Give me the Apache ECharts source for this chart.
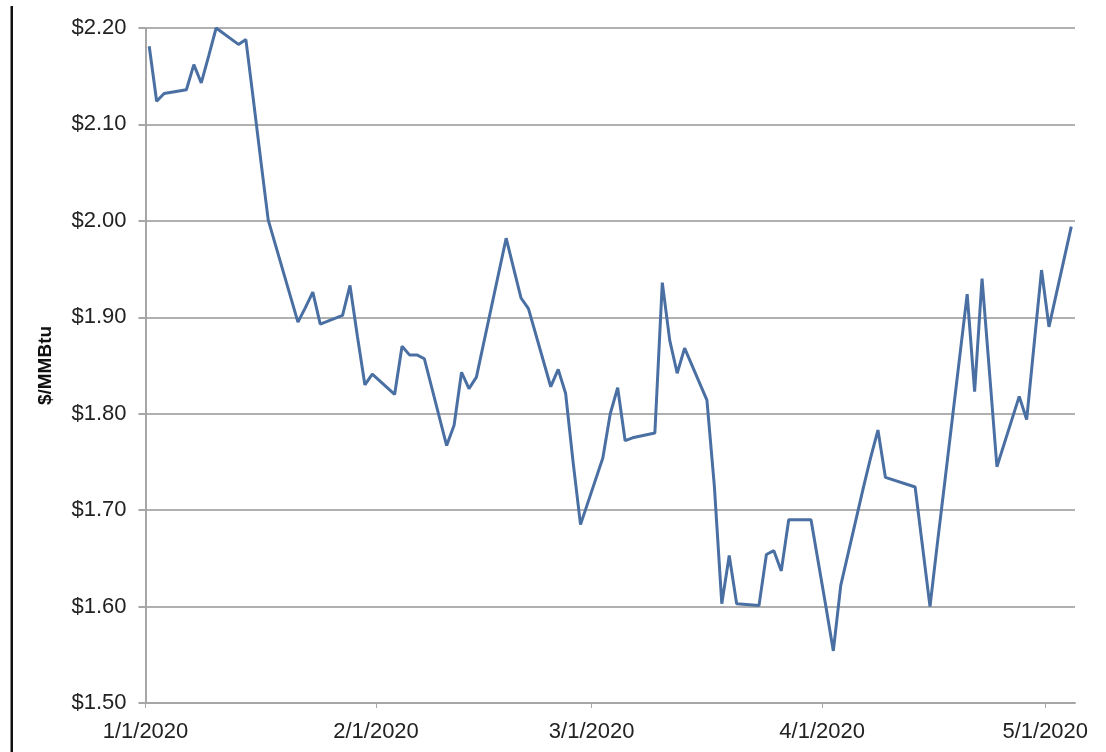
<!DOCTYPE html>
<html>
<head>
<meta charset="utf-8">
<script src="https://cdn.jsdelivr.net/npm/echarts@6/dist/echarts.min.js"></script>
<style>
html,body{margin:0;padding:0;background:#fff;}
#c{width:1106px;height:752px;}
</style>
</head>
<body>
<div id="c"></div>
<script>
// Trading dates (YYYY-MM-DD) and prices in $/MMBtu
const dates = [
 '2020-01-01','2020-01-02','2020-01-03','2020-01-06','2020-01-07','2020-01-08','2020-01-09','2020-01-10',
 '2020-01-13','2020-01-14','2020-01-15','2020-01-16','2020-01-17','2020-01-21','2020-01-22','2020-01-23',
 '2020-01-24','2020-01-27','2020-01-28','2020-01-29','2020-01-30','2020-01-31','2020-02-03','2020-02-04',
 '2020-02-05','2020-02-06','2020-02-07','2020-02-10','2020-02-11','2020-02-12','2020-02-13','2020-02-14',
 '2020-02-18','2020-02-19','2020-02-20','2020-02-21','2020-02-24','2020-02-25','2020-02-26','2020-02-27',
 '2020-02-28','2020-03-02','2020-03-03','2020-03-04','2020-03-05','2020-03-06','2020-03-09','2020-03-10',
 '2020-03-11','2020-03-12','2020-03-13','2020-03-16','2020-03-17','2020-03-18','2020-03-19','2020-03-20',
 '2020-03-23','2020-03-24','2020-03-25','2020-03-26','2020-03-27','2020-03-30','2020-03-31','2020-04-01',
 '2020-04-02','2020-04-03','2020-04-06','2020-04-07','2020-04-08','2020-04-09','2020-04-13','2020-04-14',
 '2020-04-15','2020-04-16','2020-04-17','2020-04-20','2020-04-21','2020-04-22','2020-04-23','2020-04-24',
 '2020-04-27','2020-04-28','2020-04-29','2020-04-30','2020-05-01','2020-05-04'
];
const prices = [
 2.181,2.124,2.132,2.136,2.162,2.143,2.171,2.200,
 2.183,2.188,2.126,2.063,2.001,1.895,1.910,1.926,
 1.893,1.902,1.933,1.880,1.830,1.841,1.820,1.870,
 1.861,1.861,1.857,1.767,1.788,1.843,1.826,1.838,
 1.982,1.951,1.920,1.909,1.828,1.846,1.821,1.750,
 1.685,1.754,1.800,1.827,1.772,1.775,1.780,1.936,
 1.876,1.842,1.868,1.814,1.725,1.603,1.653,1.603,
 1.601,1.654,1.658,1.637,1.690,1.690,1.645,1.600,
 1.554,1.622,1.722,1.754,1.783,1.734,1.724,1.662,
 1.600,1.666,1.730,1.924,1.823,1.940,1.843,1.745,
 1.818,1.794,1.872,1.949,1.890,1.994
];
// Axis tick labels (month starts)
const tickDates = ['2020-01-01','2020-02-01','2020-03-01','2020-04-01','2020-05-01'];
const tickLabels = ['1/1/2020','2/1/2020','3/1/2020','4/1/2020','5/1/2020'];
const axisStart = '2020-01-01';
const axisEnd = '2020-05-05';
const yTitle = '$/MMBtu';

// Convert a date to a day number counted from axisStart (UTC, no DST issues)
function dayNum(s){
  const p = s.split('-').map(Number);
  const a = axisStart.split('-').map(Number);
  return Math.round((Date.UTC(p[0],p[1]-1,p[2]) - Date.UTC(a[0],a[1]-1,a[2])) / 86400000);
}
// Points are centred in their day (date-axis convention of the source chart)
const seriesData = dates.map((d,i)=>[dayNum(d)+0.5, prices[i]]);
const tickDays = tickDates.map(dayNum);

const chart = echarts.init(document.getElementById('c'), null, {renderer:'canvas'});
const font = 'Liberation Sans, Arial, sans-serif';
chart.setOption({
  animation:false,
  backgroundColor:'#ffffff',
  grid:{left:145.5, right:31, top:28, bottom:49, containLabel:false},
  xAxis:{
    type:'value',
    min:dayNum(axisStart),
    max:dayNum(axisEnd),
    axisLine:{show:true, lineStyle:{color:'#a6a6a6', width:2}},
    axisTick:{show:true, length:5, lineStyle:{color:'#a6a6a6', width:1}, customValues:tickDays},
    splitLine:{show:false},
    axisLabel:{
      customValues:tickDays,
      color:'#222', fontSize:22, fontFamily:font, margin:18,
      hideOverlap:false, showMinLabel:true, showMaxLabel:true,
      formatter:function(v){
        const i = tickDays.indexOf(v);
        return i>=0 ? tickLabels[i] : '';
      }
    }
  },
  yAxis:{
    type:'value',
    min:1.5, max:2.2, interval:0.1,
    name:yTitle,
    nameLocation:'middle',
    nameGap:90,
    nameRotate:90,
    nameTextStyle:{color:'#111', fontSize:19, fontWeight:'bold', fontFamily:font},
    axisLine:{show:true, lineStyle:{color:'#a6a6a6', width:2}},
    axisTick:{show:true, length:7, lineStyle:{color:'#a6a6a6', width:2}},
    splitLine:{show:true, lineStyle:{color:'#b0b0b0', width:2}},
    axisLabel:{
      color:'#222', fontSize:22, fontFamily:font, margin:19,
      formatter:function(v){ return '$' + v.toFixed(2); }
    }
  },
  series:[{
    type:'line',
    data:seriesData,
    showSymbol:false,
    symbol:'none',
    lineStyle:{color:'#4a6fa3', width:3},
    itemStyle:{color:'#4a6fa3'}
  }],
  graphic:[{
    type:'rect',
    shape:{x:10.5, y:6, width:2.5, height:760},
    style:{fill:'#111'},
    silent:true
  }]
});
</script>
</body>
</html>
